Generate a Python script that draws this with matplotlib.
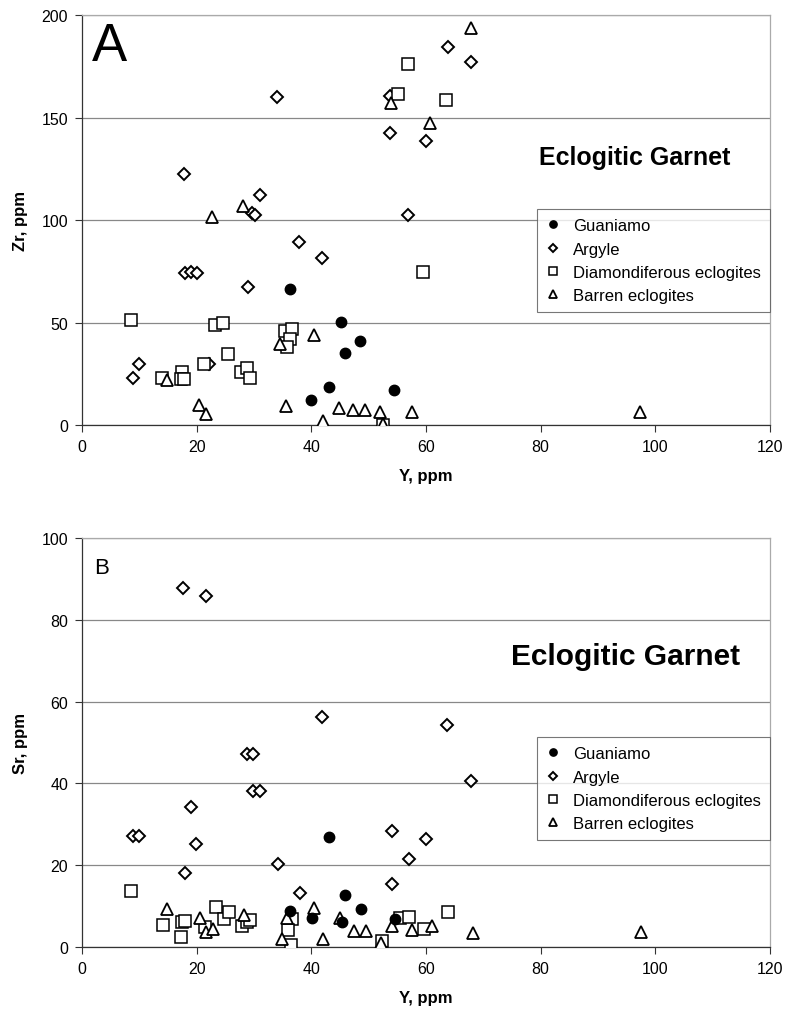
import matplotlib.pyplot as plt

plt.rcParams['font.family'] = ['Liberation Sans', 'DejaVu Sans']

# Panel A: Zr vs Y
guan_y_A = [36.2, 40.0, 43.0, 45.2, 45.8, 48.5, 54.5]
guan_zr = [66.2, 12.3, 18.7, 50.3, 35.4, 41.1, 17.0]

arg_y_A = [34.0, 53.8, 63.9, 67.9, 53.8, 60.0, 17.8, 31.0, 29.7, 30.1, 56.9, 37.8,
           18.0, 19.0, 20.0, 41.8, 29.0, 10.0, 8.9, 22.2]
arg_zr = [160, 160.4, 184.7, 177, 142.6, 138.5, 122.3, 112.2, 103.5, 102.3, 102.4, 89.5,
          74.4, 74.9, 74.4, 81.3, 67.4, 29.7, 22.9, 29.7]

dia_y_A = [56.8, 55.2, 63.5, 59.5, 8.5, 23.2, 24.6, 35.4, 36.6, 36.2, 35.7, 25.5,
           21.3, 17.4, 17.2, 17.8, 14.0, 27.8, 28.7, 29.3, 52.5]
dia_zr = [176, 161.5, 158.8, 74.9, 51.1, 49.0, 49.7, 45.9, 46.8, 42.2, 38.3, 34.6,
          30.0, 26.0, 22.7, 22.7, 23.2, 26.1, 27.9, 22.9, 0.0]

bar_y_A = [67.9, 53.9, 60.7, 28.1, 22.7, 34.5, 40.5, 14.8, 20.4, 21.6, 35.6, 42.0,
           44.8, 47.3, 49.4, 52.0, 57.6, 52.5, 97.3]
bar_zr = [193.7, 157, 147.4, 106.8, 101.7, 39.5, 44.0, 21.9, 9.9, 5.5, 9.4, 1.8,
          8.1, 7.5, 7.5, 6.2, 6.2, 0.5, 6.3]

# Panel B: Sr vs Y
guan_y_B = [36.3, 40.2, 43.0, 45.9, 48.6, 45.3, 54.6]
guan_sr = [8.7, 7.0, 26.8, 12.7, 9.3, 6.0, 6.8]

arg_y_B = [17.7, 21.7, 41.9, 28.8, 29.9, 29.9, 31.0, 19.0, 8.9, 10.0, 19.9, 34.1,
           18.0, 38.0, 67.9, 54.0, 60.0, 57.0, 54.0, 63.7]
arg_sr = [87.8, 85.9, 56.2, 47.2, 47.2, 38.2, 38.2, 34.1, 27.0, 27.0, 25.1, 20.2,
          18.1, 13.2, 40.5, 28.4, 26.4, 21.5, 15.3, 54.3]

dia_y_B = [8.6, 14.1, 17.3, 17.5, 18.0, 21.4, 23.3, 24.7, 25.6, 27.9, 28.8, 29.3,
           36.7, 35.9, 36.4, 52.3, 55.4, 57.0, 59.7, 63.8]
dia_sr = [13.6, 5.4, 2.4, 6.1, 6.4, 4.8, 9.8, 6.9, 8.6, 5.1, 6.1, 6.6,
          6.8, 4.2, 0.5, 1.5, 7.0, 7.3, 4.3, 8.4]

bar_y_B = [14.9, 20.6, 21.7, 22.8, 28.2, 35.7, 34.8, 40.5, 42.0, 45.0, 47.4, 49.6,
           52.1, 54.1, 57.6, 61.1, 68.2, 97.5]
bar_sr = [9.2, 7.1, 3.7, 4.3, 7.8, 7.1, 1.9, 9.4, 1.9, 7.0, 3.8, 3.8,
          0.8, 5.1, 4.2, 5.0, 3.4, 3.7]

labels = ['Guaniamo', 'Argyle', 'Diamondiferous eclogites', 'Barren eclogites']


def draw_panel(ax, series, ylim, yticks, ylabel):
    ax.plot(series[0][0], series[0][1], 'o', ms=7.5, mfc='black', mec='black', label=labels[0], zorder=4)
    ax.plot(series[1][0], series[1][1], 'D', ms=6, mfc='white', mec='black', mew=1.4, label=labels[1], zorder=3)
    ax.plot(series[2][0], series[2][1], 's', ms=8, mfc='white', mec='black', mew=1.1, label=labels[2], zorder=3)
    ax.plot(series[3][0], series[3][1], '^', ms=8, mfc='white', mec='black', mew=1.3, label=labels[3], zorder=3)
    ax.set_xlim(0, 120)
    ax.set_ylim(*ylim)
    ax.set_xticks(range(0, 121, 20))
    ax.set_yticks(yticks)
    ax.yaxis.grid(True, color='#888888', lw=0.9)
    ax.set_axisbelow(True)
    for s in ['top', 'right']:
        ax.spines[s].set_color('#aaaaaa')
        ax.spines[s].set_linewidth(0.9)
    for s in ['left', 'bottom']:
        ax.spines[s].set_color('#333333')
        ax.spines[s].set_linewidth(0.9)
    ax.tick_params(direction='out', length=5, width=0.8, labelsize=11.5, color='#333333', pad=5)
    ax.set_xlabel('Y, ppm', fontsize=12, fontweight='bold', labelpad=10)
    ax.set_ylabel(ylabel, fontsize=12, fontweight='bold', labelpad=10)


fig = plt.figure(figsize=(7.9, 10.12), dpi=100)
axA = fig.add_axes([0.1038, 0.579, 0.8709, 0.405])
axB = fig.add_axes([0.1038, 0.0635, 0.8709, 0.4037])

draw_panel(axA, [(guan_y_A, guan_zr), (arg_y_A, arg_zr), (dia_y_A, dia_zr), (bar_y_A, bar_zr)],
           (0, 200), range(0, 201, 50), 'Zr, ppm')
draw_panel(axB, [(guan_y_B, guan_sr), (arg_y_B, arg_sr), (dia_y_B, dia_sr), (bar_y_B, bar_sr)],
           (0, 100), range(0, 101, 20), 'Sr, ppm')

axA.text(0.015, 0.985, 'A', transform=axA.transAxes, fontsize=38, va='top', ha='left')
axB.text(0.017, 0.955, 'B', transform=axB.transAxes, fontsize=16, va='top', ha='left')

axA.text(0.943, 0.655, 'Eclogitic Garnet', transform=axA.transAxes, fontsize=18,
         fontweight='bold', ha='right', va='center')
axB.text(0.957, 0.712, 'Eclogitic Garnet', transform=axB.transAxes, fontsize=21.5,
         fontweight='bold', ha='right', va='center')

for ax, anchor in [(axA, (1.0, 0.527)), (axB, (1.0, 0.513))]:
    leg = ax.legend(loc='upper right', bbox_to_anchor=anchor, fontsize=12, markerscale=0.7,
                    handlelength=0.8, handletextpad=0.8, labelspacing=0.5, borderpad=0.55,
                    frameon=True, fancybox=False, borderaxespad=0.0)
    leg.get_frame().set_edgecolor('#555555')
    leg.get_frame().set_linewidth(0.8)

fig.savefig('out.png', dpi=100)
